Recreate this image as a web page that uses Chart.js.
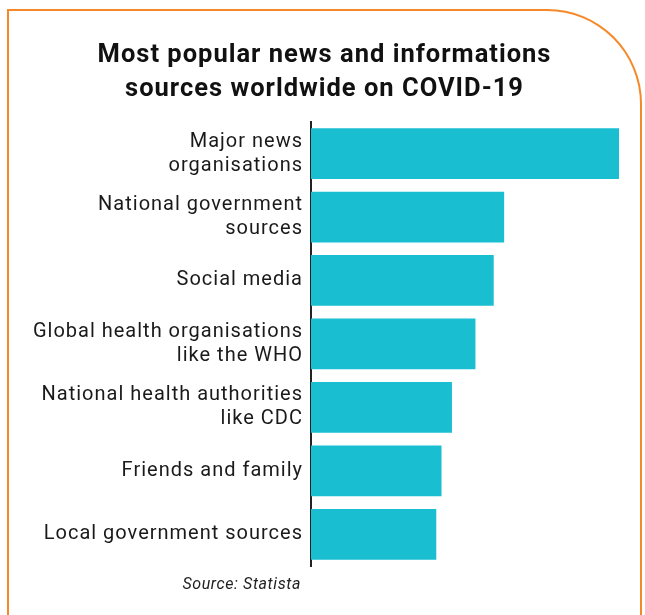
<!DOCTYPE html>
<html>
<head>
<meta charset="utf-8">
<script src="https://cdn.jsdelivr.net/npm/chart.js@4/dist/chart.umd.min.js"></script>
<style>
  html, body { margin:0; padding:0; background:#fff; }
  #wrap { position:relative; width:645px; height:615px; overflow:hidden; }
  #frame {
    position:absolute; left:7px; top:9px; width:631px; height:700px;
    border:2.5px solid #f5892a; border-bottom:none;
    border-top-right-radius:95px;
  }
  canvas { position:absolute; left:0; top:0; }
</style>
</head>
<body>
<div id="wrap">
  <div id="frame"></div>
  <canvas id="chart" width="645" height="615"></canvas>
</div>
<script>
// ── Data ──
const categories = [
  ['Major news', 'organisations'],
  ['National government', 'sources'],
  'Social media',
  ['Global health organisations', 'like the WHO'],
  ['National health authorities', 'like CDC'],
  'Friends and family',
  'Local government sources'
];
const shares = [59, 37, 35, 31.5, 27, 25, 24];
const titleLines = ['Most popular news and informations', 'sources worldwide on COVID-19'];
const sourceNote = 'Source: Statista';

const FONT = 'Roboto, "DejaVu Sans", sans-serif';

// the original type is a wide DIN-ish face, so open up the tracking a bit
const trackingPlugin = {
  id: 'tracking',
  beforeDraw(chart) { chart.ctx.letterSpacing = '1px'; }
};

// source line under the axis, right-aligned to the label column
const sourcePlugin = {
  id: 'sourceNote',
  afterDraw(chart) {
    const { ctx, chartArea } = chart;
    const y = chart.scales.y;
    ctx.save();
    ctx.letterSpacing = '0.6px';
    ctx.font = 'italic 16px ' + FONT;
    ctx.fillStyle = '#222';
    ctx.textAlign = 'right';
    ctx.textBaseline = 'middle';
    ctx.fillText(sourceNote, y.right - 10, chartArea.bottom + 19);
    ctx.restore();
  }
};

new Chart(document.getElementById('chart'), {
  type: 'bar',
  data: {
    labels: categories,
    datasets: [{
      data: shares,
      backgroundColor: '#19bfd1',
      borderWidth: 0,
      barPercentage: 0.8,
      categoryPercentage: 1
    }]
  },
  options: {
    indexAxis: 'y',
    responsive: false,
    animation: false,
    layout: { padding: { left: 30, right: 26, top: 0, bottom: 49 } },
    plugins: {
      legend: { display: false },
      tooltip: { enabled: false },
      title: {
        display: true,
        text: titleLines,
        color: '#111',
        font: { family: FONT, size: 25.5, weight: 'bold', lineHeight: 1.33 },
        padding: { top: 39, bottom: 15 }
      }
    },
    scales: {
      x: {
        display: false,
        min: 0,
        max: 59
      },
      y: {
        afterFit: s => { s.width = 281; },
        grid: { display: false, drawTicks: false },
        border: { display: true, color: '#222', width: 2 },
        ticks: {
          color: '#1a1a1a',
          padding: 8,
          font: { family: FONT, size: 20, lineHeight: 1.2 }
        }
      }
    }
  },
  plugins: [trackingPlugin, sourcePlugin]
});
</script>
</body>
</html>
